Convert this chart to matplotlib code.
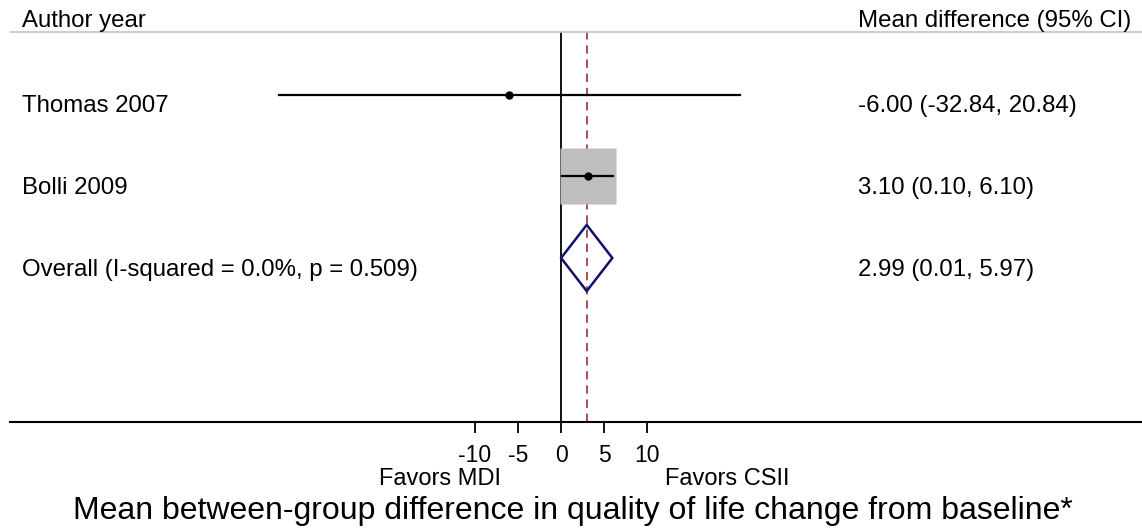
import numpy as np
import matplotlib
matplotlib.use("Agg")
import matplotlib.pyplot as plt
from matplotlib.patches import Polygon
from matplotlib.transforms import blended_transform_factory

plt.rcParams['font.family'] = ['Liberation Sans', 'DejaVu Sans']

# data
studies = ["Thomas 2007", "Bolli 2009"]
est = [-6.00, 3.10]
lo = [-32.84, 0.10]
hi = [20.84, 6.10]
weights = [1.23, 98.77]
overall_label = "Overall (I-squared = 0.0%, p = 0.509)"
overall = [2.99, 0.01, 5.97]
xticks = [-10, -5, 0, 5, 10]

W, H = 1142, 529
fig = plt.figure(figsize=(W / 100, H / 100), dpi=100)
ax = fig.add_axes([10 / W, (H - 422) / H, 1132 / W, 390 / H])

px_unit = 8.6  # pixels per unit on x
ax.set_xlim((10 - 561) / px_unit, (1142 - 561) / px_unit)
ax.set_ylim(1 + (422 - 94.5) / 81.75, 1 - (94.5 - 32) / 81.75)

for s in ['left', 'right']:
    ax.spines[s].set_visible(False)
ax.spines['top'].set_color('#c4c4c4')
ax.spines['top'].set_linewidth(1.2)
ax.spines['bottom'].set_linewidth(1.5)
ax.set_yticks([])
ax.set_xticks(xticks)
ax.set_xticklabels([str(t) for t in xticks])
ax.tick_params(axis='x', direction='out', length=8, width=1.3, pad=8, labelsize=16.5)

# null line and overall dashed line
ax.axvline(0, color='black', lw=1.3)
ax.axvline(overall[0], color='#9c2f3c', lw=1.2, ls=(0, (5, 3.5)))

rows = np.arange(1, len(studies) + 1)
for r, e, l, h, w in zip(rows, est, lo, hi, weights):
    ax.plot([e], [r], marker='s', ms=4.0 * np.sqrt(w), color='#bebebe', mec='none', zorder=2)
    ax.plot([l, h], [r, r], color='black', lw=1.6, zorder=3)
    ax.plot([e], [r], 'o', color='black', ms=5, zorder=4)

ro = len(studies) + 1
dh = 0.405
diamond = Polygon([[overall[1], ro], [overall[0], ro - dh], [overall[2], ro],
                   [overall[0], ro + dh]], closed=True, fill=False,
                  edgecolor='#10106b', lw=1.8, zorder=4)
ax.add_patch(diamond)

# texts
trans = blended_transform_factory(fig.transFigure, ax.transData)
labels = studies + [overall_label]
values = ["%.2f (%.2f, %.2f)" % (e, l, h) for e, l, h in zip(est, lo, hi)]
values.append("%.2f (%.2f, %.2f)" % tuple(overall))
off = 17.5 / 81.75
for r, lab, val in zip(list(rows) + [ro], labels, values):
    ax.text(22 / W, r + off, lab, transform=trans, fontsize=17.25, va='baseline', ha='left')
    ax.text(858 / W, r + off, val, transform=trans, fontsize=17.25, va='baseline', ha='left')

fig.text(22 / W, 1 - 26.7 / H, "Author year", fontsize=17.25, va='baseline', ha='left')
fig.text(1131 / W, 1 - 26.7 / H, "Mean difference (95% CI)", fontsize=17.25, va='baseline', ha='right')

fig.text(440 / W, 1 - 485 / H, "Favors MDI", fontsize=17, va='baseline', ha='center')
fig.text(727 / W, 1 - 485 / H, "Favors CSII", fontsize=17, va='baseline', ha='center')
fig.text(573 / W, 1 - 519 / H, "Mean between-group difference in quality of life change from baseline*",
         fontsize=23, va='baseline', ha='center')

fig.savefig("out.png", dpi=100)
